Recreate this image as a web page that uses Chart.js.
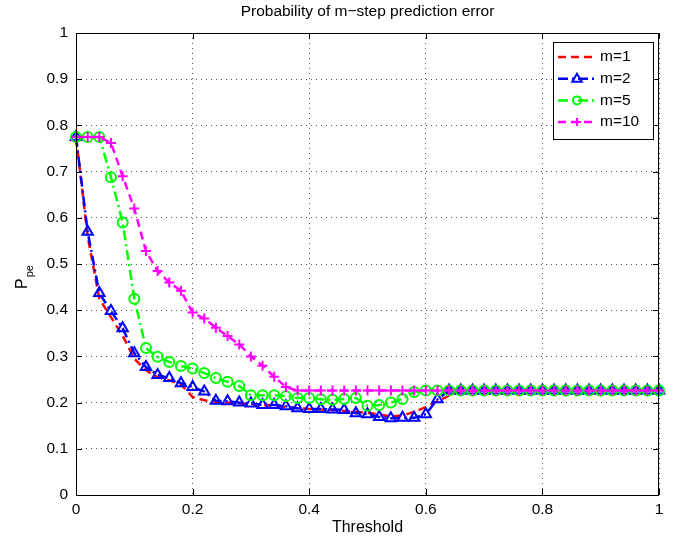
<!DOCTYPE html>
<html>
<head>
<meta charset="utf-8">
<script src="https://cdn.jsdelivr.net/npm/chart.js@4"></script>
<style>
  html, body { margin: 0; padding: 0; background: #fff; }
  #wrap { width: 681px; height: 540px; }
</style>
</head>
<body>
<div id="wrap"><canvas id="chart" width="681" height="540"></canvas></div>
<script>
const thresholds = [0, 0.02, 0.04, 0.06, 0.08, 0.1, 0.12, 0.14, 0.16, 0.18,
  0.2, 0.22, 0.24, 0.26, 0.28, 0.3, 0.32, 0.34, 0.36, 0.38,
  0.4, 0.42, 0.44, 0.46, 0.48, 0.5, 0.52, 0.54, 0.56, 0.58,
  0.6, 0.62, 0.64, 0.66, 0.68, 0.7, 0.72, 0.74, 0.76, 0.78,
  0.8, 0.82, 0.84, 0.86, 0.88, 0.9, 0.92, 0.94, 0.96, 0.98, 1];

const m1 = [0.775, 0.56, 0.425, 0.385, 0.345, 0.295, 0.27, 0.255, 0.248, 0.24,
  0.212, 0.205, 0.202, 0.2, 0.198, 0.197, 0.195, 0.194, 0.19, 0.188,
  0.186, 0.185, 0.184, 0.182, 0.18, 0.178, 0.174, 0.17, 0.172, 0.18,
  0.19, 0.203, 0.215, 0.226, 0.226, 0.226, 0.226, 0.226, 0.226, 0.226,
  0.226, 0.226, 0.226, 0.226, 0.226, 0.226, 0.226, 0.226, 0.226, 0.226, 0.226];

const m2 = [0.775, 0.57, 0.437, 0.398, 0.361, 0.307, 0.277, 0.26, 0.253, 0.242,
  0.234, 0.224, 0.204, 0.203, 0.2, 0.198, 0.195, 0.195, 0.192, 0.188,
  0.186, 0.186, 0.185, 0.184, 0.177, 0.175, 0.169, 0.166, 0.167, 0.167,
  0.175, 0.207, 0.226, 0.226, 0.226, 0.226, 0.226, 0.226, 0.226, 0.226,
  0.226, 0.226, 0.226, 0.226, 0.226, 0.226, 0.226, 0.226, 0.226, 0.226, 0.226];

const m5 = [0.775, 0.775, 0.775, 0.688, 0.59, 0.425, 0.318, 0.299, 0.288, 0.279,
  0.274, 0.264, 0.253, 0.245, 0.236, 0.216, 0.216, 0.216, 0.214, 0.21,
  0.21, 0.207, 0.206, 0.208, 0.21, 0.193, 0.195, 0.2, 0.208, 0.223,
  0.226, 0.226, 0.226, 0.226, 0.226, 0.226, 0.226, 0.226, 0.226, 0.226,
  0.226, 0.226, 0.226, 0.226, 0.226, 0.226, 0.226, 0.226, 0.226, 0.226, 0.226];

const m10 = [0.775, 0.775, 0.775, 0.762, 0.69, 0.62, 0.528, 0.485, 0.46, 0.442,
  0.395, 0.382, 0.362, 0.344, 0.326, 0.3, 0.28, 0.256, 0.234, 0.226,
  0.226, 0.226, 0.226, 0.226, 0.226, 0.226, 0.226, 0.226, 0.226, 0.226,
  0.226, 0.226, 0.226, 0.226, 0.226, 0.226, 0.226, 0.226, 0.226, 0.226,
  0.226, 0.226, 0.226, 0.226, 0.226, 0.226, 0.226, 0.226, 0.226, 0.226, 0.226];

const seriesNames = ['m=1', 'm=2', 'm=5', 'm=10'];
const xTicks = [0, 0.2, 0.4, 0.6, 0.8, 1];
const yTicks = [0, 0.1, 0.2, 0.3, 0.4, 0.5, 0.6, 0.7, 0.8, 0.9, 1];

const FONT = '"Liberation Sans", Arial, Helvetica, sans-serif';

function toPoints(vals) {
  return thresholds.map((t, i) => ({ x: t, y: vals[i] }));
}

// matlab-ish line specs
const styles = [
  { color: '#ff0000', dash: [8, 5], marker: 'none', radius: 0 },
  { color: '#0000ff', dash: [10, 4, 2, 4], marker: 'triangle', radius: 6 },
  { color: '#00ff00', dash: [10, 4, 2, 4], marker: 'circle', radius: 5 },
  { color: '#ff00ff', dash: [8, 5], marker: 'cross', radius: 5 }
];
const allSeries = [m1, m2, m5, m10];

const datasets = allSeries.map((vals, i) => ({
  label: seriesNames[i],
  data: toPoints(vals),
  borderColor: styles[i].color,
  backgroundColor: 'rgba(0,0,0,0)',
  borderWidth: 2.5,
  borderDash: styles[i].dash,
  pointStyle: styles[i].marker === 'none' ? false : styles[i].marker,
  pointRadius: styles[i].radius,
  pointBorderWidth: 2,
  pointBorderColor: styles[i].color,
  pointBackgroundColor: 'rgba(0,0,0,0)',
  tension: 0,
  clip: false,
  order: 4 - i
}));

function drawMarker(ctx, kind, x, y, r) {
  ctx.beginPath();
  if (kind === 'circle') {
    ctx.arc(x, y, r, 0, Math.PI * 2);
  } else if (kind === 'triangle') {
    ctx.moveTo(x, y - r);
    ctx.lineTo(x + r * 0.95, y + r * 0.6);
    ctx.lineTo(x - r * 0.95, y + r * 0.6);
    ctx.closePath();
  } else if (kind === 'cross') {
    ctx.moveTo(x - r, y); ctx.lineTo(x + r, y);
    ctx.moveTo(x, y - r); ctx.lineTo(x, y + r);
  }
  ctx.stroke();
}

function tickText(v) {
  return String(Number(Number(v).toFixed(1)));
}

const matlabFrame = {
  id: 'matlabFrame',
  afterDraw(chart) {
    const { ctx, chartArea: a, scales } = chart;
    ctx.save();
    ctx.setLineDash([]);
    ctx.strokeStyle = '#000';
    ctx.lineWidth = 1;
    ctx.strokeRect(a.left + 0.5, a.top + 0.5, a.width - 1, a.height);

    // inward ticks on all sides
    ctx.beginPath();
    xTicks.forEach(v => {
      const px = Math.round(scales.x.getPixelForValue(v)) + 0.5;
      ctx.moveTo(px, a.bottom); ctx.lineTo(px, a.bottom - 6);
      ctx.moveTo(px, a.top); ctx.lineTo(px, a.top + 6);
    });
    yTicks.forEach(v => {
      const py = Math.round(scales.y.getPixelForValue(v)) + 0.5;
      ctx.moveTo(a.left, py); ctx.lineTo(a.left + 6, py);
      ctx.moveTo(a.right, py); ctx.lineTo(a.right - 6, py);
    });
    ctx.stroke();

    // title and axis labels
    ctx.fillStyle = '#000';
    ctx.textAlign = 'center';
    ctx.textBaseline = 'middle';
    ctx.font = '15.5px ' + FONT;
    ctx.fillText('Probability of m\u2212step prediction error', (a.left + a.right) / 2, 12);
    ctx.font = '16px ' + FONT;
    ctx.fillText('Threshold', (a.left + a.right) / 2, 528);

    ctx.save();
    ctx.translate(27, 289);
    ctx.rotate(-Math.PI / 2);
    ctx.textAlign = 'left';
    ctx.textBaseline = 'alphabetic';
    ctx.font = '16px ' + FONT;
    ctx.fillText('P', 0, 0);
    const pw = ctx.measureText('P').width;
    ctx.font = '11px ' + FONT;
    ctx.fillText('pe', pw + 1, 6);
    ctx.restore();

    // legend box
    const lx = 553, ly = 42, lw = 100, lh = 97;
    ctx.fillStyle = '#fff';
    ctx.fillRect(lx, ly, lw, lh);
    ctx.strokeStyle = '#000';
    ctx.lineWidth = 1;
    ctx.strokeRect(lx + 0.5, ly + 0.5, lw, lh);
    seriesNames.forEach((name, i) => {
      const s = styles[i];
      const ry = 57 + i * 21.7;
      ctx.strokeStyle = s.color;
      ctx.lineWidth = 2.5;
      ctx.setLineDash(s.dash);
      ctx.beginPath();
      ctx.moveTo(558, ry); ctx.lineTo(596, ry);
      ctx.stroke();
      ctx.setLineDash([]);
      ctx.lineWidth = 2;
      if (s.marker !== 'none') drawMarker(ctx, s.marker, 577, ry, s.marker === 'triangle' ? 5 : 4);
      ctx.fillStyle = '#000';
      ctx.font = '15.5px ' + FONT;
      ctx.textAlign = 'left';
      ctx.textBaseline = 'middle';
      ctx.fillText(name, 600, ry);
    });
    ctx.restore();
  }
};

new Chart(document.getElementById('chart'), {
  type: 'line',
  data: { datasets },
  options: {
    responsive: false,
    animation: false,
    events: [],
    layout: { padding: { top: 33, right: 22, left: 0, bottom: 0 } },
    plugins: { legend: { display: false }, title: { display: false }, tooltip: { enabled: false } },
    scales: {
      x: {
        type: 'linear',
        min: 0,
        max: 1,
        afterFit(scale) { scale.height = 45; },
        afterBuildTicks(scale) { scale.ticks = xTicks.map(v => ({ value: v })); },
        border: { display: false, dash: [1, 4] },
        grid: { color: '#555', lineWidth: 1, drawTicks: false, tickLength: 0 },
        ticks: { color: '#000', font: { family: FONT, size: 15.5 }, padding: 5, maxRotation: 0, callback: tickText }
      },
      y: {
        type: 'linear',
        min: 0,
        max: 1,
        afterFit(scale) { scale.width = 76; },
        afterBuildTicks(scale) { scale.ticks = yTicks.map(v => ({ value: v })); },
        border: { display: false, dash: [1, 4] },
        grid: { color: '#555', lineWidth: 1, drawTicks: false, tickLength: 0 },
        ticks: { color: '#000', font: { family: FONT, size: 15.5 }, padding: 8, callback: tickText }
      }
    }
  },
  plugins: [matlabFrame]
});
</script>
</body>
</html>
